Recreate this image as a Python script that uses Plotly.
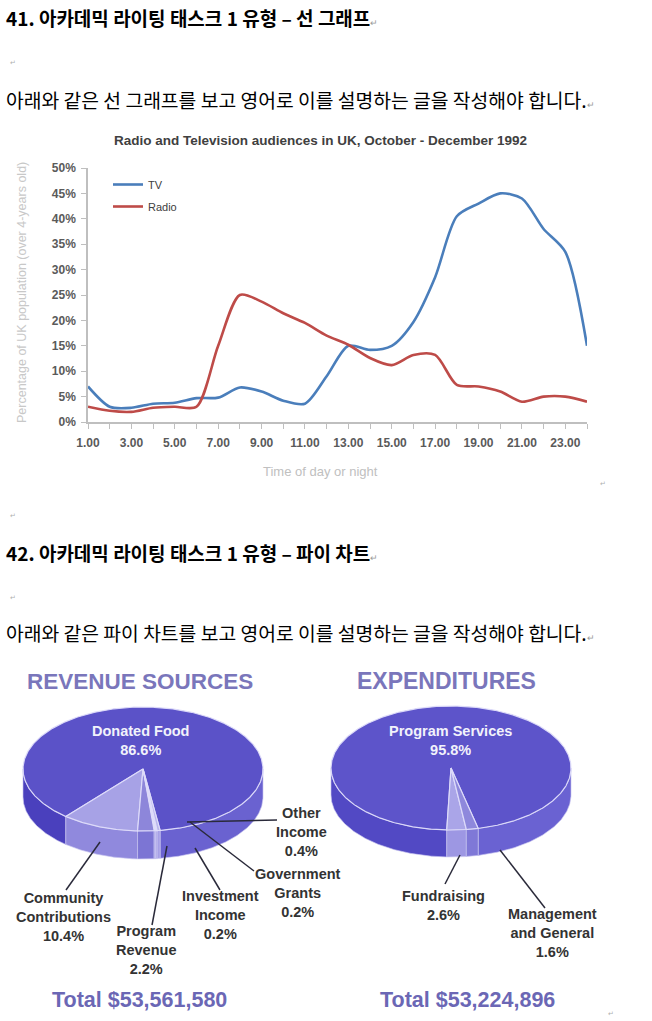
import numpy as np
import plotly.graph_objects as go

W, H = 652, 1021

# ---------------- data ----------------
hours = list(range(1, 25))
hour_ticks = [1, 3, 5, 7, 9, 11, 13, 15, 17, 19, 21, 23]
hour_labels = ["1.00", "3.00", "5.00", "7.00", "9.00", "11.00", "13.00",
               "15.00", "17.00", "19.00", "21.00", "23.00"]
tv = [7, 3, 2.8, 3.6, 3.8, 4.7, 4.8, 6.8, 6, 4.2, 3.6, 9,
      15, 14.2, 15, 19.7, 28.5, 40.5, 43, 45, 44, 38, 33.5, 15]
radio = [3, 2.2, 2, 2.8, 3, 3, 15, 25, 23.7, 21.4, 19.5, 17,
         15.2, 12.6, 11.2, 13.2, 13.2, 7.3, 7, 6, 4, 5, 5, 4]
pct_ticks = [0, 5, 10, 15, 20, 25, 30, 35, 40, 45, 50]
pct_labels = ["0%", "5%", "10%", "15%", "20%", "25%", "30%", "35%", "40%", "45%", "50%"]

rev_labels = ["Donated Food", "Community Contributions", "Program Revenue",
              "Investment Income", "Government Grants", "Other Income"]
rev_values = [86.6, 10.4, 2.2, 0.2, 0.2, 0.4]
rev_total = "Total $53,561,580"

exp_labels = ["Program Services", "Fundraising", "Management and General"]
exp_values = [95.8, 2.6, 1.6]
exp_total = "Total $53,224,896"


def px(x):
    return x / W


def py(y):
    return 1 - y / H


fig = go.Figure()

# ---------------- line chart ----------------
fig.add_trace(go.Scatter(x=hours, y=tv, name="TV", mode="lines", legendgroup="a",
                         line=dict(color="#4a7ebb", width=2.6, shape="spline", smoothing=0.8),
                         cliponaxis=False, hoverinfo="skip"))
fig.add_trace(go.Scatter(x=hours, y=radio, name="Radio", mode="lines", legendgroup="b",
                         line=dict(color="#be4b48", width=2.6, shape="spline", smoothing=0.8),
                         cliponaxis=False, hoverinfo="skip"))


# ---------------- 3D-looking pies ----------------
def slice_spans(values, start):
    spans = []
    t = start
    for v in values:
        t2 = t - 360.0 * v / 100.0
        spans.append((t, t2))
        t = t2
    return spans


def add_pie(values, start, cx, cy, a, b, d, tops, side_l, side_r):
    spans = slice_spans(values, start)
    # side walls (front half only)
    for (t1, t2), cl, cr in zip(spans, side_l, side_r):
        lo, hi = min(t1, t2), max(t1, t2)
        for k in range(-2, 3):
            s = max(lo, 360 * k)
            e = min(hi, 360 * k + 180)
            if e - s <= 0.01:
                continue
            n = max(3, int((e - s) / 0.5) + 2)
            r = np.radians(np.linspace(s, e, n))
            xs = cx + a * np.cos(r)
            ys = cy + b * np.sin(r)
            X = np.concatenate([xs, xs[::-1], xs[:1]])
            Y = np.concatenate([ys, ys[::-1] + d, ys[:1]])
            col = cl if np.mean(np.cos(r)) < 0 else cr
            fig.add_trace(go.Scatter(x=X, y=Y, xaxis="x2", yaxis="y2", mode="lines",
                                     fill="toself", fillcolor=col,
                                     line=dict(color="rgba(200,196,240,0.8)", width=0.8),
                                     hoverinfo="skip", showlegend=False))
    # top faces
    for (t1, t2), ct in zip(spans, tops):
        n = max(3, int(abs(t1 - t2) / 0.5) + 2)
        r = np.radians(np.linspace(t1, t2, n))
        X = np.concatenate([[cx], cx + a * np.cos(r), [cx]])
        Y = np.concatenate([[cy], cy + b * np.sin(r), [cy]])
        fig.add_trace(go.Scatter(x=X, y=Y, xaxis="x2", yaxis="y2", mode="lines",
                                 fill="toself", fillcolor=ct,
                                 line=dict(color="rgba(222,220,250,0.95)", width=1.2),
                                 hoverinfo="skip", showlegend=False))


add_pie(rev_values, 81.8, 143, 769, 120, 62, 28,
        tops=["#5b52c8", "#a7a2e6", "#8d86da", "#b9b5ec", "#b9b5ec", "#b9b5ec"],
        side_l=["#4a40bd", "#9089dd", "#7c75d4", "#a6a0e6", "#a6a0e6", "#a6a0e6"],
        side_r=["#6a62d0", "#9089dd", "#7c75d4", "#a6a0e6", "#a6a0e6", "#a6a0e6"])
add_pie(exp_values, 76.9, 451, 768, 120, 62, 27,
        tops=["#5d54ca", "#aaa5e8", "#8e88dc"],
        side_l=["#5249c4", "#9d97e3", "#7f78d7"],
        side_r=["#6a62d2", "#9d97e3", "#7f78d7"])

# ---------------- annotations ----------------
KR = "Noto Sans CJK KR"
AR = "Liberation Sans"
ann = []


def text(x, y, t, size, color="#000", family=KR, xanchor="left", yanchor="middle",
         align="left", angle=0):
    ann.append(dict(x=px(x), y=py(y), xref="paper", yref="paper", text=t, showarrow=False,
                    xanchor=xanchor, yanchor=yanchor, align=align, textangle=angle,
                    font=dict(size=size, color=color, family=family)))


ret = "<span style='font-size:9px;color:#9a9a9a'>↵</span>"
text(4, 18, "<b>41. 아카데믹 라이팅 태스크 1 유형 – 선 그래프</b>" + ret, 19)
text(8, 62, "↵", 7, color="#b0b0b0")
text(4, 100, "아래와 같은 선 그래프를 보고 영어로 이를 설명하는 글을 작성해야 합니다." + ret, 19.3)
text(4, 552, "<b>42. 아카데믹 라이팅 태스크 1 유형 – 파이 차트</b>" + ret, 19)
text(8, 515, "↵", 7, color="#b0b0b0")
text(8, 597, "↵", 7, color="#b0b0b0")
text(4, 633, "아래와 같은 파이 차트를 보고 영어로 이를 설명하는 글을 작성해야 합니다." + ret, 19.3)
text(598, 483, "↵", 7, color="#b0b0b0")
text(606, 1013, "↵", 7, color="#b0b0b0")

# line chart texts
text(320, 141, "<b>Radio and Television audiences in UK, October - December 1992</b>", 13.5,
     color="#404040", family=AR, xanchor="center")
text(320, 472, "Time of day or night", 13, color="#c0c0c0", family=AR, xanchor="center")
text(22, 293, "Percentage of UK population (over 4-years old)", 12.5, color="#c8c8c8",
     family=AR, xanchor="center", angle=-90)

# pie texts
PC = "#7a76bb"
text(140, 681, "<b>REVENUE SOURCES</b>", 22.5, color=PC, family=AR, xanchor="center")
text(446, 681, "<b>EXPENDITURES</b>", 23, color=PC, family=AR, xanchor="center")
text(139, 1000, "<b>" + rev_total + "</b>", 21.5, color="#6b67b5", family=AR, xanchor="center")
text(467, 1000, "<b>" + exp_total + "</b>", 21.5, color="#6b67b5", family=AR, xanchor="center")

LC = "#333333"
WC = "#f2f2fb"
LS = 14.5
text(140, 740, "<b>Donated Food<br>%.1f%%</b>" % rev_values[0], LS, color=WC, family=AR,
     xanchor="center", align="center")
text(63, 917, "<b>Community<br>Contributions<br>%.1f%%</b>" % rev_values[1], LS, color=LC,
     family=AR, xanchor="center", align="center")
text(146, 950, "<b>Program<br>Revenue<br>%.1f%%</b>" % rev_values[2], LS, color=LC,
     family=AR, xanchor="center", align="center")
text(220, 915, "<b>Investment<br>Income<br>%.1f%%</b>" % rev_values[3], LS, color=LC,
     family=AR, xanchor="center", align="center")
text(298, 893, "<b>Government<br>Grants<br>%.1f%%</b>" % rev_values[4], LS, color=LC,
     family=AR, xanchor="center", align="center")
text(301, 832, "<b>Other<br>Income<br>%.1f%%</b>" % rev_values[5], LS, color=LC,
     family=AR, xanchor="center", align="center")

text(450, 740, "<b>Program Services<br>%.1f%%</b>" % exp_values[0], LS, color=WC, family=AR,
     xanchor="center", align="center")
text(443, 905, "<b>Fundraising<br>%.1f%%</b>" % exp_values[1], LS, color=LC, family=AR,
     xanchor="center", align="center")
text(552, 933, "<b>Management<br>and General<br>%.1f%%</b>" % exp_values[2], LS, color=LC,
     family=AR, xanchor="center", align="center")

# leader lines
shapes = []
for (x0, y0, x1, y1) in [(100, 842, 66, 890), (167, 846, 152, 925), (195, 848, 220, 890),
                         (190, 822, 254, 871), (187, 822, 277, 820),
                         (460, 855, 445, 884), (500, 850, 545, 908)]:
    shapes.append(dict(type="line", xref="x2", yref="y2", x0=x0, y0=y0, x1=x1, y1=y1,
                       line=dict(color="#2a2a3a", width=1.5)))

fig.update_layout(
    template="none",
    width=W, height=H, margin=dict(l=0, r=0, t=0, b=0, pad=0, autoexpand=False),
    autosize=False,
    paper_bgcolor="white", plot_bgcolor="rgba(0,0,0,0)",
    showlegend=True,
    legend=dict(x=px(108), y=py(170), xanchor="left", yanchor="top",
                bgcolor="rgba(0,0,0,0)", tracegroupgap=3, itemwidth=30,
                font=dict(size=11, color="#404040", family=AR)),
    xaxis=dict(domain=[px(88), px(587)], range=[1, 24], tickmode="array",
               tickvals=hour_ticks, ticktext=["<b>%s</b>" % s for s in hour_labels],
               ticks="outside", ticklen=5,
               tickcolor="#bfbfbf", tickwidth=1.3, showline=True, linecolor="#bfbfbf",
               linewidth=1.5, showgrid=False, zeroline=False, automargin=False,
               ticklabelstandoff=4,
               tickfont=dict(size=12, color="#5a5a5a", family=AR),
               minor=dict(tickmode="linear", tick0=1, dtick=1, ticks="outside", ticklen=5,
                          tickcolor="#bfbfbf", tickwidth=1.3, showgrid=False),
               fixedrange=True),
    yaxis=dict(domain=[py(422), py(168)], range=[0, 50], tickmode="array",
               tickvals=pct_ticks, ticktext=["<b>%s</b>" % s for s in pct_labels],
               ticks="outside", ticklen=5,
               tickcolor="#bfbfbf", tickwidth=1.3, showline=True, linecolor="#bfbfbf",
               linewidth=1.5, showgrid=False, zeroline=False, automargin=False,
               ticklabelstandoff=3,
               tickfont=dict(size=12, color="#5a5a5a", family=AR), fixedrange=True),
    xaxis2=dict(domain=[0, 1], range=[0, W], visible=False, fixedrange=True,
                automargin=False),
    yaxis2=dict(domain=[0, 1], range=[H, 0], visible=False, fixedrange=True,
                automargin=False),
    annotations=ann, shapes=shapes,
)

fig.write_html("out.html")
